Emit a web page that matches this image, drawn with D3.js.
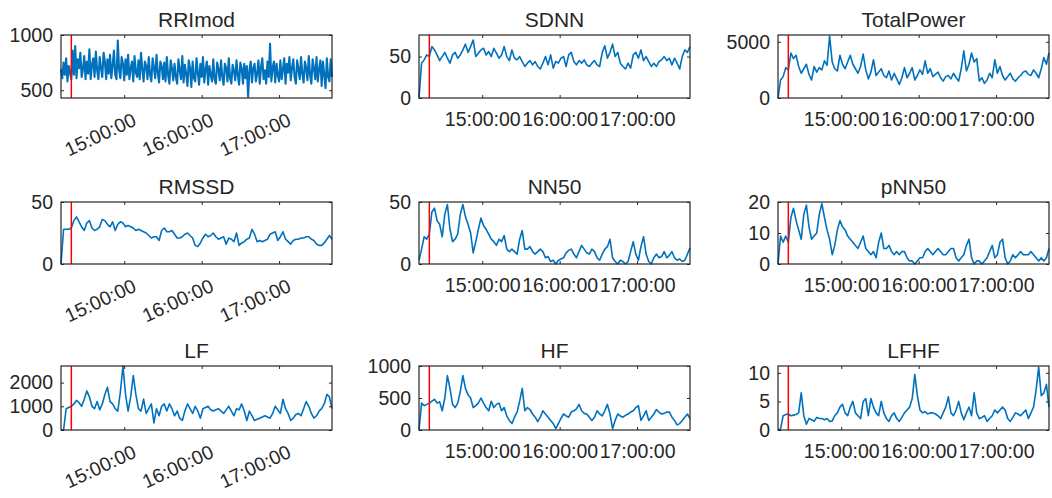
<!DOCTYPE html>
<html>
<head>
<meta charset="utf-8">
<script src="https://cdn.jsdelivr.net/npm/d3@7"></script>
<style>
  body { margin: 0; background: #fff; }
  svg text { font-family: "Liberation Sans", Arial, sans-serif; fill: #262626; }
</style>
</head>
<body>
<svg id="chart" width="1052" height="498"></svg>
<script>
// recording window and the marker (red line)
var startTime = new Date(2019, 0, 1, 14, 11, 0);
var endTime = new Date(2019, 0, 1, 17, 41, 0);
var markTime = new Date(2019, 0, 1, 14, 19, 0);
var hourTicks = [15, 16, 17].map(function(h) { return new Date(2019, 0, 1, h, 0, 0); });

// RRImod: one reading per minute
var rriMod = [
  690, 610, 750, 640, 790, 580, 720, 660, 600, 860,
  640, 900, 610, 780, 700, 840, 620, 690, 810, 600,
  760, 650, 870, 600, 730, 790, 620, 850, 680, 600,
  800, 700, 620, 840, 760, 600, 780, 650, 820, 610,
  720, 860, 640, 600, 950, 690, 610, 800, 740, 590,
  780, 640, 820, 600, 700, 760, 580, 810, 660, 620,
  770, 600, 840, 690, 580, 760, 720, 600, 800, 640,
  580, 790, 700, 610, 820, 660, 570, 760, 720, 600,
  750, 580, 800, 640, 560, 770, 700, 590, 740, 620,
  560, 780, 680, 600, 810, 570, 730, 650, 540, 770,
  700, 530, 760, 610, 580, 790, 660, 550, 740, 620,
  800, 570, 690, 760, 550, 720, 640, 580, 780, 600,
  560, 750, 690, 590, 770, 620, 550, 740, 700, 580,
  790, 610, 560, 730, 680, 590, 770, 640, 550, 750,
  700, 560, 740, 610, 720, 440, 680, 760, 570, 700,
  740, 580, 650, 770, 560, 710, 790, 600, 680, 560,
  760, 620, 920, 580, 700, 760, 570, 740, 640, 580,
  770, 600, 690, 790, 560, 740, 660, 800, 590, 700,
  780, 620, 560, 770, 690, 600, 800, 650, 570, 760,
  700, 590, 810, 640, 560, 780, 700, 600, 800, 580,
  690, 770, 540, 760, 640, 520, 790, 620, 580, 780,
  620
];

// the other indices: one reading every 2 minutes
var sdnn = [
  0, 42, 46, 52, 50, 62, 58, 52, 45, 50,
  55, 48, 42, 52, 55, 48, 52, 58, 65, 55,
  62, 70, 50, 54, 58, 60, 52, 56, 50, 60,
  54, 48, 52, 62, 50, 45, 58, 48, 46, 50,
  44, 38, 42, 45, 40, 44, 38, 35, 42, 50,
  40, 52, 36, 44, 42, 48, 50, 38, 52, 55,
  44, 40, 45, 42, 46, 40, 38, 42, 45, 40,
  38, 55, 63, 48, 55, 65, 50, 55, 42, 38,
  35, 42, 36, 52, 55, 48, 58, 45, 50, 44,
  38, 42, 38, 44, 46, 50, 45, 48, 40, 48,
  42, 35, 50, 58, 55, 62
];
var totalPower = [
  0, 1600, 1900, 2700, 2500, 4000, 3500, 3800, 2800, 2200,
  2600, 3000, 2100, 1600, 2800, 2300, 2700, 2500, 3300, 2900,
  5500, 3200, 2600, 2400, 3800, 3000, 2600, 3200, 3800, 3000,
  2600, 2200, 2800, 3900, 2500, 1700, 2300, 3400, 2000, 2300,
  2600, 2000, 1800, 2400, 1600, 2200, 1700, 1200, 1800, 2700,
  1800, 2200, 2700, 1600, 2000, 2500, 2100, 3300, 2200, 2600,
  1900, 2100, 2300, 1800, 1500, 1900, 2000, 1700, 2200, 1800,
  1500, 2600, 4200, 2400, 3000, 4000, 3200, 3500, 1500, 1800,
  1300, 1600, 2200, 1800, 3400, 2200, 2800, 2000, 1600, 1900,
  2200, 1700, 1500, 1800, 2000, 2300, 2400, 2100, 2000, 2500,
  2200, 1800, 2600, 3600, 3000, 4000
];
var rmssd = [
  0, 28, 28, 28, 29, 35, 38, 34, 30, 27,
  33, 35, 29, 27, 28, 30, 36, 35, 32, 30,
  34, 27, 32, 34, 33, 30, 31, 30, 29, 27,
  28, 27, 26, 25, 23, 21, 22, 22, 19, 27,
  29, 26, 26, 27, 24, 21, 21, 22, 24, 25,
  23, 21, 15, 14, 17, 21, 24, 22, 23, 25,
  22, 20, 21, 22, 16, 21, 20, 18, 25, 15,
  17, 18, 20, 21, 28, 24, 18, 19, 18, 19,
  20, 24, 25, 26, 19, 22, 26, 20, 18, 16,
  19, 20, 20, 21, 21, 22, 22, 20, 19, 16,
  15, 15, 17, 20, 23, 20
];
var nn50 = [
  3, 12, 22, 20, 24, 42, 45, 35, 32, 22,
  40, 48, 28, 18, 20, 24, 40, 48, 38, 32,
  25, 9, 18, 28, 37, 31, 28, 24, 20, 18,
  15, 20, 18, 23, 12, 10, 12, 10, 8, 20,
  27, 12, 12, 14, 10, 8, 10, 12, 10, 5,
  6, 2, 3, 0, 3, 4, 5, 9, 11, 12,
  8, 5, 10, 15, 12, 9, 8, 12, 10, 5,
  3, 8, 12, 14, 20, 5, 2, 0, 3, 2,
  0, 2, 10, 18, 8, 3, 14, 22, 8, 2,
  0, 5, 8, 5, 6, 10, 5, 7, 10, 5,
  3, 4, 2, 3, 8, 13
];
var pnn50 = [
  0, 9, 7, 9, 7, 15, 18, 14, 11, 8,
  16, 19, 12, 8, 9, 10, 16, 19.5, 15, 11,
  8, 3, 6, 11, 14, 12, 11, 9, 8, 7,
  6, 5, 7, 9, 5, 4, 3, 4, 2, 7,
  10, 5, 5, 6, 4, 3, 4, 3, 4, 4,
  2, 1, 1, 0, 1, 2, 2, 4, 5, 4,
  3, 4, 5, 4, 3, 3, 4, 5, 5, 2,
  1, 2, 3, 6, 8, 2, 0, 1, 1, 0,
  1, 2, 4, 6, 2, 3, 7, 8, 2, 0,
  1, 3, 2, 3, 4, 3, 3, 3, 4, 3,
  2, 1, 2, 1, 2, 5
];
var lf = [
  0, 0, 900, 950, 1000, 1100, 1250, 1150, 1000, 1300,
  1650, 1400, 1000, 900, 1200, 850, 1100, 1500, 1800, 1200,
  1100, 900, 800, 1600, 2700, 1500, 800, 1400, 2300, 1500,
  900, 800, 1300, 700, 900, 1100, 300, 900, 600, 1000,
  1100, 800, 1100, 900, 600, 800, 500, 400, 800, 1100,
  900, 700, 1000, 800, 500, 900, 950, 1000, 850, 800,
  850, 900, 800, 700, 850, 1000, 800, 600, 900, 850,
  1100, 800, 400, 800, 600, 400, 450, 500, 550, 600,
  550, 500, 700, 1000, 850, 700, 1300, 900, 700, 400,
  500, 650, 700, 600, 900, 1200, 1000, 700, 500, 600,
  800, 900, 1100, 1500, 1400, 900
];
var hf = [
  0, 420, 380, 400, 420, 450, 480, 420, 440, 300,
  500, 850, 650, 400, 350, 420, 600, 850, 650, 550,
  500, 350, 380, 420, 500, 420, 350, 300, 450, 350,
  400, 420, 300, 350, 220, 150, 100, 200, 280, 450,
  650, 300, 350, 320, 250, 200, 130, 200, 300, 250,
  200, 150, 100, 20, 100, 180, 250, 220, 200, 280,
  300, 330, 400, 300, 260, 250, 200, 150, 200, 300,
  250, 220, 300, 400, 250, 20, 150, 250, 220, 200,
  230, 250, 280, 300, 350, 380, 150, 220, 300, 150,
  200, 250, 320, 280, 250, 260, 280, 280, 200, 150,
  80, 100, 150, 200, 250, 180
];
var lfhf = [
  0, 0.2, 2.5, 2.7, 2.8, 2.5, 2.6, 2.7, 3.0, 6.5,
  2.5, 1.0, 2.0, 1.8, 1.5, 2.2, 2.0, 2.0, 1.8, 2.0,
  1.5, 1.6, 2.5, 3.0, 4.0, 4.5, 3.0, 2.5, 4.0, 5.0,
  3.0, 2.5, 2.0, 5.0, 5.5, 2.5, 5.5, 4.0, 3.0, 2.5,
  5.0, 3.0, 2.0, 1.5, 2.5, 3.0, 2.0, 1.5, 2.2, 3.0,
  3.5, 4.0, 5.5, 9.7, 6.0, 3.5, 3.0, 3.2, 2.8, 3.0,
  3.0, 2.8, 2.5, 2.0, 3.0, 4.0, 5.8, 3.0, 2.5, 3.5,
  5.0, 3.0, 1.8, 3.0, 4.0, 2.5, 6.5, 3.0, 2.0, 2.2,
  2.5, 1.5, 2.0, 2.5, 3.5, 3.0, 3.5, 4.0, 3.5, 2.0,
  1.5, 2.2, 3.0, 2.8, 2.5, 3.0, 3.5, 2.0, 3.0, 4.0,
  7.0, 11.0, 6.0, 6.5, 8.0, 4.0
];

var panels = [
  { title: 'RRImod',     values: rriMod,     step: 1, yDomain: [430, 1000], yTicks: [500, 1000] },
  { title: 'SDNN',       values: sdnn,       step: 2, yDomain: [0, 76],     yTicks: [0, 50] },
  { title: 'TotalPower', values: totalPower, step: 2, yDomain: [0, 5600],   yTicks: [0, 5000] },
  { title: 'RMSSD',      values: rmssd,      step: 2, yDomain: [0, 50],     yTicks: [0, 50] },
  { title: 'NN50',       values: nn50,       step: 2, yDomain: [0, 50],     yTicks: [0, 50] },
  { title: 'pNN50',      values: pnn50,      step: 2, yDomain: [0, 20],     yTicks: [0, 10, 20] },
  { title: 'LF',         values: lf,         step: 2, yDomain: [0, 2700],   yTicks: [0, 1000, 2000] },
  { title: 'HF',         values: hf,         step: 2, yDomain: [0, 1000],   yTicks: [0, 500, 1000] },
  { title: 'LFHF',       values: lfhf,       step: 2, yDomain: [0, 11.2],   yTicks: [0, 5, 10] }
];

var colX = [61, 419, 778],
    rowY = [35, 202, 366],
    rowH = [63, 62, 64],
    boxW = 271,
    axisColor = '#262626',
    lineColor = '#0072BD',
    fmt = d3.timeFormat('%H:%M:%S');

var svg = d3.select('#chart');

panels.forEach(function(p, k) {
  var col = k % 3, row = Math.floor(k / 3);
  var h = rowH[row];
  var g = svg.append('g').attr('transform', 'translate(' + colX[col] + ',' + rowY[row] + ')');

  var x = d3.scaleTime().domain([startTime, endTime]).range([0, boxW]);
  var y = d3.scaleLinear().domain(p.yDomain).range([h, 0]);

  var pts = p.values.map(function(v, i) {
    return { t: d3.timeMinute.offset(startTime, i * p.step), v: v };
  });

  g.append('path')
    .datum(pts)
    .attr('fill', 'none')
    .attr('stroke', lineColor)
    .attr('stroke-width', p.step === 1 ? 2.1 : 1.6)
    .attr('stroke-linejoin', 'round')
    .attr('d', d3.line().x(function(d) { return x(d.t); }).y(function(d) { return y(d.v); }));

  // red marker
  g.append('line')
    .attr('x1', x(markTime)).attr('x2', x(markTime))
    .attr('y1', 0).attr('y2', h)
    .attr('stroke', '#ff0000').attr('stroke-width', 1.5);

  // axes, ticks pointing inward like MATLAB
  var bottom = g.append('g').attr('transform', 'translate(0,' + h + ')')
    .call(d3.axisBottom(x).tickValues(hourTicks).tickSize(-3).tickPadding(14).tickFormat(fmt));
  g.append('g')
    .call(d3.axisTop(x).tickValues(hourTicks).tickSize(-3).tickFormat(''));
  g.append('g')
    .call(d3.axisLeft(y).tickValues(p.yTicks).tickSize(-3).tickPadding(8).tickFormat(d3.format('d')));
  g.append('g').attr('transform', 'translate(' + boxW + ',0)')
    .call(d3.axisRight(y).tickValues(p.yTicks).tickSize(-3).tickFormat(''));

  g.selectAll('.domain').remove();
  g.selectAll('.tick line').attr('stroke', axisColor);
  g.selectAll('.tick text').attr('font-size', '19.5px').attr('fill', axisColor);

  if (col === 0) {
    bottom.selectAll('.tick text')
      .attr('text-anchor', 'end')
      .attr('x', 0).attr('y', 0)
      .attr('dy', '0.71em')
      .attr('transform', 'translate(7,14) rotate(-25)');
  }

  g.append('rect')
    .attr('width', boxW).attr('height', h)
    .attr('fill', 'none')
    .attr('stroke', axisColor)
    .attr('stroke-width', 1.2);

  g.append('text')
    .attr('x', boxW / 2).attr('y', -8)
    .attr('text-anchor', 'middle')
    .attr('font-size', '21px')
    .text(p.title);
});
</script>
</body>
</html>
